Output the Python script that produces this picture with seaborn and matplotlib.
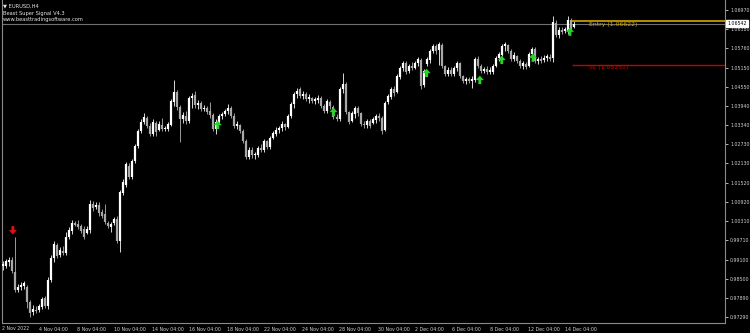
import numpy as np
import matplotlib
matplotlib.use("Agg")
import matplotlib.pyplot as plt
from matplotlib.path import Path
import seaborn as sns
import pandas as pd

# ---------------- data (EURUSD H4) ----------------
open_ = [0.9890,0.9890,0.9903,0.9909,0.9871,0.9814,0.9824,0.9827,0.9824,0.9776,
         0.9745,0.9751,0.9751,0.9761,0.9789,0.9764,0.9846,0.9915,0.9956,0.9925,
         0.9937,0.9931,0.9981,1.0000,1.0026,1.0022,1.0016,1.0007,0.9994,1.0003,
         1.0085,1.0076,1.0082,1.0060,1.0054,1.0026,1.0013,1.0026,1.0038,0.9969,
         1.0120,1.0145,1.0205,1.0171,1.0221,1.0268,1.0316,1.0344,1.0357,1.0331,
         1.0306,1.0341,1.0319,1.0334,1.0322,1.0322,1.0334,1.0407,1.0438,1.0391,
         1.0353,1.0363,1.0347,1.0420,1.0429,1.0397,1.0404,1.0385,1.0388,1.0379,
         1.0366,1.0322,1.0344,1.0363,1.0369,1.0379,1.0388,1.0363,1.0331,1.0334,
         1.0316,1.0284,1.0234,1.0256,1.0240,1.0240,1.0262,1.0256,1.0284,1.0265,
         1.0294,1.0306,1.0319,1.0325,1.0338,1.0328,1.0363,1.0401,1.0432,1.0448,
         1.0426,1.0432,1.0416,1.0420,1.0410,1.0413,1.0420,1.0394,1.0379,1.0407,
         1.0391,1.0360,1.0353,1.0448,1.0464,1.0375,1.0347,1.0369,1.0388,1.0372,
         1.0338,1.0334,1.0347,1.0341,1.0350,1.0363,1.0357,1.0319,1.0407,1.0423,
         1.0448,1.0438,1.0486,1.0514,1.0530,1.0505,1.0520,1.0514,1.0530,1.0539,
         1.0461,1.0527,1.0539,1.0568,1.0583,1.0571,1.0587,1.0520,1.0495,1.0508,
         1.0495,1.0514,1.0530,1.0489,1.0473,1.0479,1.0473,1.0476,1.0543,1.0520,
         1.0505,1.0511,1.0501,1.0501,1.0520,1.0546,1.0555,1.0583,1.0587,1.0568,
         1.0543,1.0552,1.0536,1.0520,1.0527,1.0520,1.0558,1.0574,1.0536,1.0543,
         1.0539,1.0546,1.0549,1.0546,1.0656,1.0618,1.0634,1.0631,1.0631,1.0665,
         1.0643]
high = [0.9906,0.9912,0.9918,0.9918,0.9981,0.9833,0.9839,0.9843,0.9830,0.9783,
        0.9767,0.9764,0.9770,0.9792,0.9795,0.9855,0.9925,0.9969,0.9962,0.9950,
        0.9953,0.9997,1.0013,1.0035,1.0032,1.0035,1.0022,1.0016,1.0016,1.0098,
        1.0095,1.0092,1.0092,1.0070,1.0085,1.0032,1.0029,1.0044,1.0047,1.0129,
        1.0164,1.0218,1.0215,1.0227,1.0274,1.0322,1.0353,1.0372,1.0363,1.0341,
        1.0353,1.0347,1.0347,1.0357,1.0331,1.0344,1.0416,1.0476,1.0445,1.0397,
        1.0375,1.0379,1.0426,1.0435,1.0442,1.0413,1.0410,1.0397,1.0394,1.0407,
        1.0372,1.0353,1.0369,1.0375,1.0385,1.0401,1.0394,1.0372,1.0347,1.0338,
        1.0322,1.0290,1.0265,1.0265,1.0249,1.0268,1.0274,1.0290,1.0287,1.0300,
        1.0316,1.0328,1.0331,1.0347,1.0341,1.0369,1.0407,1.0438,1.0451,1.0454,
        1.0442,1.0438,1.0432,1.0423,1.0423,1.0429,1.0426,1.0401,1.0416,1.0413,
        1.0397,1.0369,1.0454,1.0498,1.0470,1.0379,1.0379,1.0394,1.0394,1.0375,
        1.0347,1.0353,1.0353,1.0360,1.0369,1.0372,1.0363,1.0410,1.0432,1.0454,
        1.0457,1.0495,1.0520,1.0536,1.0536,1.0527,1.0533,1.0536,1.0549,1.0546,
        1.0511,1.0549,1.0574,1.0590,1.0590,1.0596,1.0593,1.0524,1.0517,1.0517,
        1.0520,1.0536,1.0533,1.0492,1.0486,1.0486,1.0489,1.0549,1.0552,1.0527,
        1.0517,1.0520,1.0517,1.0527,1.0552,1.0565,1.0590,1.0596,1.0590,1.0574,
        1.0565,1.0555,1.0543,1.0536,1.0533,1.0565,1.0580,1.0580,1.0549,1.0552,
        1.0555,1.0558,1.0558,1.0678,1.0665,1.0643,1.0643,1.0643,1.0678,1.0672,
        1.0662]
low = [0.9877,0.9884,0.9890,0.9868,0.9808,0.9808,0.9814,0.9817,0.9758,0.9729,
       0.9735,0.9742,0.9745,0.9754,0.9758,0.9754,0.9839,0.9903,0.9915,0.9918,
       0.9925,0.9925,0.9975,0.9991,1.0016,1.0007,0.9994,0.9975,0.9991,0.9994,
       1.0063,1.0070,1.0047,1.0041,1.0022,1.0010,0.9997,1.0019,0.9962,0.9934,
       1.0114,1.0139,1.0164,1.0164,1.0215,1.0262,1.0309,1.0338,1.0325,1.0300,
       1.0300,1.0300,1.0316,1.0316,1.0316,1.0316,1.0331,1.0394,1.0382,1.0281,
       1.0341,1.0338,1.0341,1.0388,1.0388,1.0385,1.0379,1.0379,1.0369,1.0357,
       1.0316,1.0306,1.0341,1.0353,1.0363,1.0369,1.0357,1.0325,1.0322,1.0309,
       1.0278,1.0227,1.0227,1.0230,1.0227,1.0234,1.0249,1.0249,1.0259,1.0259,
       1.0290,1.0300,1.0309,1.0316,1.0319,1.0325,1.0357,1.0388,1.0420,1.0420,
       1.0416,1.0410,1.0404,1.0404,1.0401,1.0404,1.0388,1.0372,1.0372,1.0385,
       1.0353,1.0347,1.0347,1.0435,1.0369,1.0338,1.0344,1.0357,1.0363,1.0331,
       1.0325,1.0325,1.0325,1.0338,1.0341,1.0347,1.0306,1.0316,1.0401,1.0416,
       1.0426,1.0435,1.0479,1.0505,1.0495,1.0498,1.0508,1.0511,1.0520,1.0448,
       1.0454,1.0520,1.0530,1.0562,1.0558,1.0524,1.0514,1.0489,1.0489,1.0489,
       1.0489,1.0505,1.0483,1.0467,1.0464,1.0467,1.0451,1.0470,1.0514,1.0498,
       1.0498,1.0495,1.0495,1.0495,1.0517,1.0536,1.0552,1.0568,1.0562,1.0536,
       1.0536,1.0530,1.0514,1.0511,1.0511,1.0517,1.0552,1.0530,1.0527,1.0530,
       1.0533,1.0536,1.0536,1.0533,1.0612,1.0609,1.0621,1.0624,1.0621,1.0631,
       1.0640]
close = [0.9896,0.9906,0.9909,0.9874,0.9814,0.9824,0.9830,0.9836,0.9776,0.9742,
         0.9754,0.9748,0.9764,0.9786,0.9764,0.9846,0.9915,0.9959,0.9921,0.9940,
         0.9931,0.9981,1.0003,1.0026,1.0019,1.0013,1.0000,0.9981,1.0007,1.0085,
         1.0073,1.0082,1.0057,1.0047,1.0029,1.0016,1.0022,1.0038,0.9969,1.0123,
         1.0155,1.0212,1.0171,1.0221,1.0268,1.0316,1.0344,1.0360,1.0331,1.0306,
         1.0344,1.0312,1.0338,1.0322,1.0325,1.0338,1.0410,1.0438,1.0391,1.0353,
         1.0366,1.0347,1.0420,1.0426,1.0397,1.0404,1.0385,1.0388,1.0375,1.0366,
         1.0322,1.0344,1.0363,1.0369,1.0379,1.0388,1.0363,1.0331,1.0338,1.0316,
         1.0284,1.0234,1.0256,1.0240,1.0243,1.0262,1.0256,1.0284,1.0265,1.0294,
         1.0309,1.0319,1.0325,1.0338,1.0328,1.0363,1.0401,1.0432,1.0442,1.0426,
         1.0432,1.0416,1.0423,1.0410,1.0416,1.0420,1.0394,1.0379,1.0410,1.0394,
         1.0360,1.0353,1.0448,1.0464,1.0375,1.0344,1.0372,1.0388,1.0372,1.0338,
         1.0334,1.0347,1.0331,1.0353,1.0363,1.0357,1.0316,1.0404,1.0426,1.0448,
         1.0435,1.0489,1.0514,1.0530,1.0501,1.0520,1.0514,1.0530,1.0543,1.0457,
         1.0505,1.0543,1.0568,1.0583,1.0568,1.0590,1.0520,1.0495,1.0508,1.0495,
         1.0514,1.0530,1.0489,1.0473,1.0479,1.0473,1.0479,1.0543,1.0520,1.0505,
         1.0511,1.0501,1.0508,1.0520,1.0546,1.0558,1.0583,1.0590,1.0568,1.0543,
         1.0555,1.0536,1.0520,1.0530,1.0517,1.0558,1.0574,1.0536,1.0543,1.0536,
         1.0546,1.0552,1.0543,1.0659,1.0618,1.0634,1.0628,1.0637,1.0665,1.0637,
         1.06542]

# signals: bar index and price level of the arrow
sell_bars = [3.3]
sell_price = [1.0003]
buy_bars = [71.5, 110.0, 141.0, 158.7, 166.0, 176.4, 188.7]
buy_price = [1.0334, 1.0375, 1.0498, 1.0476, 1.0539, 1.0546, 1.0628]

entry_price = 1.06622
sl_price = 1.05251
bid_price = 1.06542
trade_start_bar = 189.3

yticks = [1.06970, 1.06380, 1.05760, 1.05150, 1.04550, 1.03940, 1.03340, 1.02730,
          1.02130, 1.01520, 1.00920, 1.00310, 0.99710, 0.99100, 0.98500, 0.97890,
          0.97290]
xtick_bars = [12.0, 24.5, 36.9, 49.5, 61.9, 74.4, 86.9, 99.5, 111.8, 124.7,
              137.1, 149.6, 162.1, 174.6, 187.1]
xtick_labels = ["4 Nov 04:00", "8 Nov 04:00", "10 Nov 04:00", "14 Nov 04:00",
                "16 Nov 04:00", "18 Nov 04:00", "22 Nov 04:00", "24 Nov 04:00",
                "28 Nov 04:00", "30 Nov 04:00", "2 Dec 04:00", "6 Dec 04:00",
                "8 Dec 04:00", "12 Dec 04:00", "14 Dec 04:00"]
first_label = "2 Nov 2022"

# ---------------- style ----------------
sns.set_theme(style="dark", rc={
    "axes.facecolor": "black", "figure.facecolor": "black",
    "axes.edgecolor": "#8a8a8a", "text.color": "#e6e6e6",
    "xtick.color": "#cfcfcf", "ytick.color": "#cfcfcf",
})
plt.rcParams["font.family"] = ["DejaVu Sans"]

FS = 3.4

fig = plt.figure(figsize=(7.5, 3.33), dpi=100)
ax = fig.add_axes([2/750, 10/333, 723/750, 323/333])
ax.set_facecolor("black")

n = len(close)
x = np.arange(n)
o = np.array(open_); c = np.array(close); h = np.array(high); l = np.array(low)
up = c >= o

ax.vlines(x, l, h, colors=np.where(up, "#d8d8d8", "#9a9a9a"), linewidth=0.7, zorder=2)
bot = np.minimum(o, c); top = np.maximum(o, c)
top = np.maximum(top, bot + 0.00025)
ax.vlines(x[up], bot[up], top[up], colors="#ffffff", linewidth=1.6, zorder=3)
ax.vlines(x[~up], bot[~up], top[~up], colors="#a8a8a8", linewidth=1.6, zorder=3)

# bid line
ax.axhline(bid_price, color="#707070", linewidth=0.8, zorder=1)
# entry / SL
ax.hlines([entry_price], trade_start_bar, 260, colors="#d2a800", linewidth=1.2, zorder=4)
ax.hlines([sl_price], trade_start_bar, 260, colors="#c80000", linewidth=1.0, zorder=4)
ax.text(195, entry_price - 0.0002, "Entry (1.06622)", color="#d4aa00", fontsize=4.4,
        va="top", ha="left")
ax.text(195, sl_price - 0.00025, "SL (1.05251)", color="#d00000", fontsize=4.4,
        va="top", ha="left")

# signal arrows
up_arrow = Path([(-0.5, 0.0), (0.0, 0.55), (0.5, 0.0), (0.18, 0.0), (0.18, -0.5),
                 (-0.18, -0.5), (-0.18, 0.0), (-0.5, 0.0)],
                [Path.MOVETO] + [Path.LINETO]*6 + [Path.CLOSEPOLY])
dn_arrow = Path([(-0.5, 0.0), (0.0, -0.55), (0.5, 0.0), (0.18, 0.0), (0.18, 0.5),
                 (-0.18, 0.5), (-0.18, 0.0), (-0.5, 0.0)],
                [Path.MOVETO] + [Path.LINETO]*6 + [Path.CLOSEPOLY])
buys = pd.DataFrame({"bar": buy_bars, "price": buy_price})
sells = pd.DataFrame({"bar": sell_bars, "price": sell_price})
sns.scatterplot(data=buys, x="bar", y="price", marker=up_arrow, s=40, color="#22d822",
                edgecolor="none", ax=ax, zorder=6, legend=False)
sns.scatterplot(data=sells, x="bar", y="price", marker=dn_arrow, s=40, color="#e01010",
                edgecolor="none", ax=ax, zorder=6, legend=False)

ax.set_xlim(-0.33, 240.3)
ax.set_ylim(0.97101, 1.07285)
ax.set_xlabel(""); ax.set_ylabel("")

ax.spines["top"].set_visible(False)
for s in ["left", "bottom", "right"]:
    ax.spines[s].set_color("#8a8a8a")
    ax.spines[s].set_linewidth(0.8)

ax.yaxis.tick_right()
ax.set_yticks(yticks)
ax.set_yticklabels([f"{v:.5f}" for v in yticks])
ax.tick_params(axis="y", direction="out", length=2.2, width=0.6, pad=1.5,
               labelsize=FS, colors="#cfcfcf", left=False, right=True)
ax.set_xticks(xtick_bars)
ax.set_xticklabels(xtick_labels)
ax.tick_params(axis="x", direction="out", length=2.2, width=0.6, pad=1.0,
               labelsize=FS, colors="#cfcfcf")
for lab in ax.get_xticklabels():
    lab.set_ha("left")
ax.text(-0.2, -0.008, first_label, transform=ax.get_xaxis_transform(), fontsize=FS,
        color="#cfcfcf", ha="left", va="top")
ax.grid(False)

# current price box on the price scale
ax.annotate("1.06542", xy=(1.0, bid_price), xycoords=("axes fraction", "data"),
            xytext=(1.5, 0), textcoords="offset points", fontsize=FS, color="black",
            ha="left", va="center", annotation_clip=False,
            bbox=dict(boxstyle="square,pad=0.25", fc="white", ec="white"))

# header text
fig.text(3/750, 1 - 6/333, "\u25bc EURUSD,H4", fontsize=3.7, color="#e6e6e6", va="center")
fig.text(3/750, 1 - 13/333, "Beast Super Signal V4.3", fontsize=3.7, color="#e6e6e6", va="center")
fig.text(3/750, 1 - 19.5/333, "www.beasttradingsoftware.com", fontsize=3.7, color="#e6e6e6", va="center")

fig.savefig("out.png", dpi=100, facecolor="black")
